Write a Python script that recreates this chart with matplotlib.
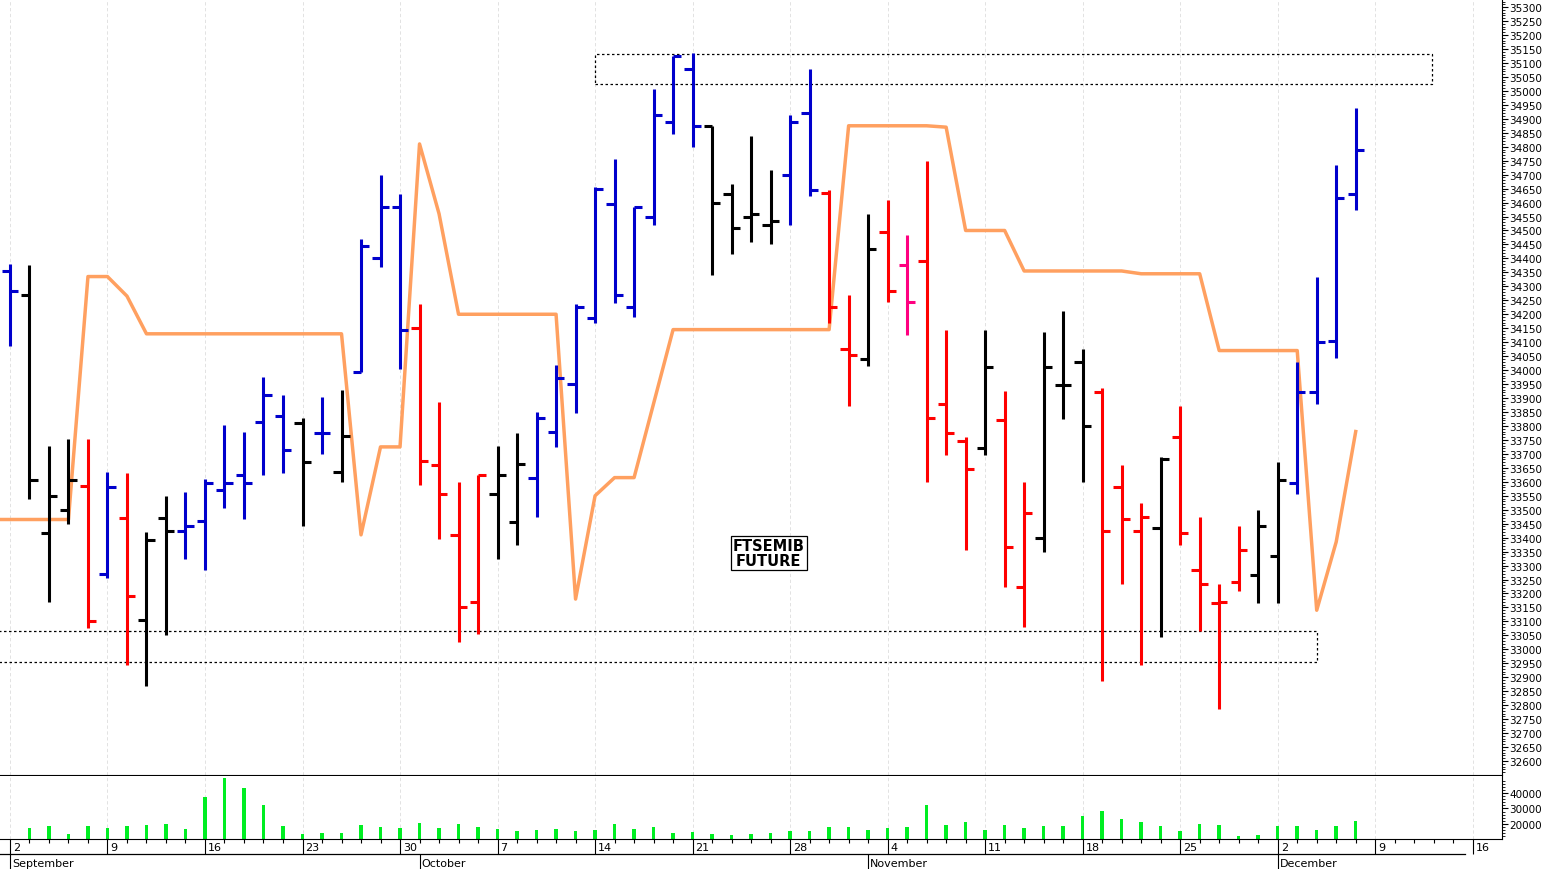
import matplotlib
matplotlib.use("Agg")
import matplotlib.pyplot as plt
from matplotlib.patches import Rectangle
import numpy as np

# daily OHLC, FTSEMIB future, 2 Sep .. 6 Dec
highs = [34380, 34375, 33730, 33755, 33755, 33635, 33630, 33420, 33550, 33565,
         33610, 33805, 33780, 33975, 33910, 33830, 33905, 33930, 34470, 34700,
         34630, 34235, 33885, 33600, 33625, 33730, 33775, 33850, 34020, 34235,
         34655, 34755, 34585, 35005, 35125, 35135, 34875, 34665, 34840, 34715,
         34915, 35080, 34645, 34270, 34560, 34610, 34485, 34750, 34145, 33760,
         34145, 33925, 33600, 34135, 34210, 34075, 33935, 33660, 33525, 33690,
         33870, 33475, 33235, 33440, 33500, 33670, 34030, 34335, 34735, 34940]
lows = [34085, 33540, 33170, 33450, 33075, 33255, 32945, 32870, 33050, 33325,
        33285, 33505, 33465, 33625, 33630, 33440, 33700, 33600, 33995, 34370,
        34005, 33590, 33395, 33025, 33055, 33325, 33375, 33475, 33725, 33845,
        34170, 34240, 34190, 34520, 34845, 34800, 34340, 34415, 34460, 34450,
        34520, 34625, 34170, 33870, 34015, 34245, 34125, 33600, 33695, 33355,
        33695, 33225, 33080, 33350, 33825, 33600, 32885, 33235, 32945, 33045,
        33375, 33065, 32785, 33210, 33165, 33165, 33555, 33880, 34045, 34575]
opens = [34355, 34270, 33415, 33500, 33585, 33270, 33470, 33105, 33470, 33425,
         33460, 33570, 33625, 33815, 33835, 33810, 33775, 33635, 33995, 34400,
         34585, 34150, 33660, 33410, 33170, 33555, 33455, 33615, 33780, 33950,
         34185, 34595, 34225, 34550, 34890, 35080, 34875, 34630, 34550, 34520,
         34700, 34920, 34635, 34075, 34040, 34495, 34375, 34390, 33880, 33745,
         33720, 33820, 33225, 33400, 33945, 34030, 33920, 33580, 33425, 33435,
         33760, 33285, 33165, 33240, 33265, 33335, 33595, 33920, 34105, 34630]
closes = [34285, 33605, 33550, 33605, 33100, 33580, 33190, 33390, 33425, 33440,
          33595, 33595, 33595, 33910, 33715, 33670, 33775, 33765, 34445, 34585,
          34145, 33675, 33555, 33150, 33625, 33625, 33665, 33830, 33970, 34225,
          34650, 34270, 34585, 34915, 35125, 34875, 34600, 34510, 34560, 34535,
          34890, 34645, 34225, 34055, 34435, 34285, 34245, 33830, 33775, 33645,
          34010, 33365, 33490, 34010, 33945, 33800, 33425, 33465, 33475, 33680,
          33415, 33235, 33170, 33355, 33440, 33605, 33920, 34100, 34615, 34790]
bar_colors = list("BKKKRBRKKBBBBBBKBKBBBRRRRKKBBBBBBBBBKKKKBBRRKRPRRRKRRKKKRRRKRRRRKKBBBB")

# volume, days 1..69
volume = [17400, 18700, 13550, 18700, 17400, 18700, 19350, 20000, 16800, 37400,
          49700, 43200, 32250, 18700, 13550, 14200, 14200, 19350, 18050, 17400,
          20650, 17400, 20000, 18050, 16800, 15500, 16150, 16800, 15500, 16150,
          20000, 16800, 18050, 14200, 14850, 13550, 12900, 13550, 14200, 15500,
          15500, 18050, 18050, 16150, 17400, 18050, 32250, 19350, 21300, 16150,
          19350, 17400, 18700, 18700, 25150, 28400, 23200, 21300, 18700, 15500,
          20000, 19350, 12250, 12900, 18700, 18700, 16150, 18700, 21950]

# orange indicator line (day index, value)
line_x = [-0.5, 3, 4, 5, 6, 7, 17, 18, 19, 20, 21, 22, 23, 28, 29, 30, 31, 32,
          34, 42, 43, 47, 48, 49, 51, 52, 57, 58, 61, 62, 66, 67, 68, 69]
line_y = [33465, 33465, 34335, 34335, 34265, 34130, 34130, 33410, 33725, 33725,
          34810, 34560, 34200, 34200, 33180, 33550, 33615, 33615, 34145, 34145,
          34875, 34875, 34870, 34500, 34500, 34355, 34355, 34345, 34345, 34070,
          34070, 33140, 33385, 33780]

week_labels = ["2", "9", "16", "23", "30", "7", "14", "21", "28", "4", "11", "18",
               "25", "2", "9", "16"]
months = [("September", 0), ("October", 21), ("November", 44), ("December", 65)]

cmap = {"B": "#0000cc", "K": "#000000", "R": "#ff0000", "P": "#ff0080"}

W, H = 1549, 870
fig = plt.figure(figsize=(W / 100, H / 100), dpi=100)
xl = (-0.51, 76.5)
ax = fig.add_axes([0, 1 - 776 / H, 1502 / W, 776 / H])
axv = fig.add_axes([0, 1 - 840 / H, 1502 / W, 63 / H])

n = len(highs)
x = np.arange(n)
for i in x:
    c = cmap[bar_colors[i]]
    ax.vlines(i, lows[i], highs[i], color=c, lw=2.2)
    ax.hlines(opens[i], i - 0.42, i, color=c, lw=2.2)
    ax.hlines(closes[i], i, i + 0.42, color=c, lw=2.2)

ax.plot(line_x, line_y, color="#ffa060", lw=2.5, zorder=1)

ax.add_patch(Rectangle((30, 35024), 42.9, 108, fill=False, ls=(0, (2, 2)), lw=0.9))
ax.add_patch(Rectangle((-0.6, 32955), 67.6, 110, fill=False, ls=(0, (2, 2)), lw=0.9))

ax.text(38.9, 33345, "FTSEMIB\nFUTURE", ha="center", va="center", fontsize=10.5,
        fontweight="bold", family="DejaVu Sans", linespacing=0.95,
        bbox=dict(boxstyle="square,pad=0.15", fc="white", ec="black", lw=0.9))

for a in (ax, axv):
    a.set_xlim(*xl)
    for k in range(0, 80, 5):
        a.axvline(k, color="#dddddd", lw=0.6, ls=(0, (4, 3)), zorder=0)
    a.yaxis.tick_right()
    a.set_xticks([])
    for s in ("left", "top"):
        a.spines[s].set_visible(False)

ax.set_ylim(32550, 35329)
ax.set_yticks(np.arange(32600, 35301, 50))
ax.set_yticks(np.arange(32560, 35330, 10), minor=True)
ax.tick_params(axis="y", labelsize=7.5, length=4, pad=1)
ax.tick_params(axis="y", which="minor", length=2)

axv.bar(x[1:], volume, width=0.18, color="#00ee22", bottom=0)
axv.set_ylim(10300, 50960)
axv.set_yticks([20000, 30000, 40000])
axv.set_yticks(np.arange(12000, 50000, 2000), minor=True)
axv.tick_params(axis="y", labelsize=7.5, length=4, pad=1)
axv.tick_params(axis="y", which="minor", length=2)

# date axis
axd = fig.add_axes([0, 0, 1502 / W, 30 / H])
axd.set_xlim(*xl)
axd.set_ylim(0, 30)
axd.axis("off")
axd.axhline(15, xmin=0, xmax=(74.6 + 0.51) / (77.01), color="black", lw=0.9)
for k in range(0, 76):
    axd.vlines(k, 26 if k % 5 else 15, 30, color="black", lw=0.8)
for j, lab in enumerate(week_labels):
    axd.text(j * 5 + 0.15, 22, lab, fontsize=8, va="center", ha="left")
for name, k in months:
    axd.vlines(k, 0, 15, color="black", lw=0.8)
    axd.text(k + 0.1, 6, name, fontsize=8, va="center", ha="left")

fig.savefig("out.png", dpi=100)
